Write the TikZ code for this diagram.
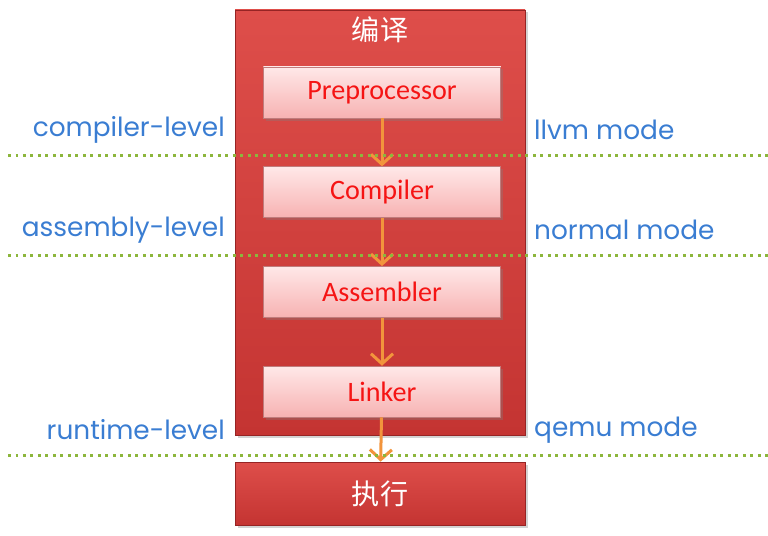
\documentclass[tikz,border=0pt]{standalone}
\usepackage{fontspec}
\setmainfont{Carlito}
\newfontfamily\labelfont{Poppins}
\newfontfamily\cjk{Noto Sans CJK SC}
\usepackage{xcolor}
\usepackage{tikz}
\usetikzlibrary{positioning,arrows.meta,shadows}
\definecolor{StageRed}{RGB}{212,66,63}
\definecolor{StageTop}{RGB}{222,78,74}
\definecolor{StageBot}{RGB}{196,52,50}
\definecolor{StageEdge}{RGB}{150,36,36}
\definecolor{StepTop}{RGB}{255,232,232}
\definecolor{StepBot}{RGB}{247,178,178}
\definecolor{StepText}{RGB}{245,20,20}
\definecolor{LevelBlue}{RGB}{58,125,210}
\definecolor{FlowOrange}{RGB}{242,148,60}
\definecolor{CutGreen}{RGB}{140,182,60}

\begin{document}
\begin{tikzpicture}[
  node distance=0.96cm,
  every node/.style={align=center},
  stage/.style={draw=StageEdge, top color=StageTop, bottom color=StageBot, minimum width=5.8cm,
    drop shadow={opacity=0.35, shadow xshift=0.05cm, shadow yshift=-0.05cm}},
  stepbox/.style={draw=StageEdge!60, top color=StepTop, bottom color=StepBot,
    minimum width=4.75cm, minimum height=1.02cm, text=StepText, font=\fontsize{16}{19}\selectfont,
    drop shadow={opacity=0.35, shadow xshift=0.05cm, shadow yshift=-0.05cm}},
  title/.style={text=white, font=\cjk\fontsize{16}{19}\selectfont},
  lvl/.style={text=LevelBlue, font=\labelfont\fontsize{15}{18}\selectfont},
  cut/.style={draw=CutGreen, line width=0.06cm, dash pattern=on 0.06cm off 0.09cm},
  arr/.style={-{Straight Barb[length=2mm, width=4.4mm]}, line width=0.06cm, draw=FlowOrange}
]
\useasboundingbox (0,0) rectangle (15.36,10.7);

% compile stage
\node[stage, minimum height=8.5cm] (compile) at (7.6,6.25) {};
\node[title] (ctitle) at (7.6,10.1) {编译};
\node[stepbox] (pre) at (7.64,8.85) {Preprocessor};
\node[stepbox, below=of pre] (comp) {Compiler};
\node[stepbox, below=of comp] (asm) {Assembler};
\node[stepbox, below=of asm] (link) {Linker};

% run stage
\node[stage, minimum height=1.26cm, title] (run) at (7.6,0.83) {执行};

\draw[arr] (pre) -- (comp);
\draw[arr] (comp) -- (asm);
\draw[arr] (asm) -- (link);
\draw[arr] (link) -- (run);

% level cuts
\draw[cut] (0.16,7.6) -- (15.36,7.6);
\draw[cut] (0.16,5.6) -- (15.36,5.6);
\draw[cut] (0.16,1.6) -- (15.36,1.6);

\node[lvl, anchor=east] (cl) at (4.62,8.1) {compiler-level};
\node[lvl, anchor=east] (al) at (4.62,6.1) {assembly-level};
\node[lvl, anchor=east] (rl) at (4.62,2.1) {runtime-level};
\node[lvl, anchor=west] (lm) at (10.56,8.1) {llvm mode};
\node[lvl, anchor=west] (nm) at (10.56,6.1) {normal mode};
\node[lvl, anchor=west] (qm) at (10.56,2.1) {qemu mode};
\end{tikzpicture}
\end{document}
